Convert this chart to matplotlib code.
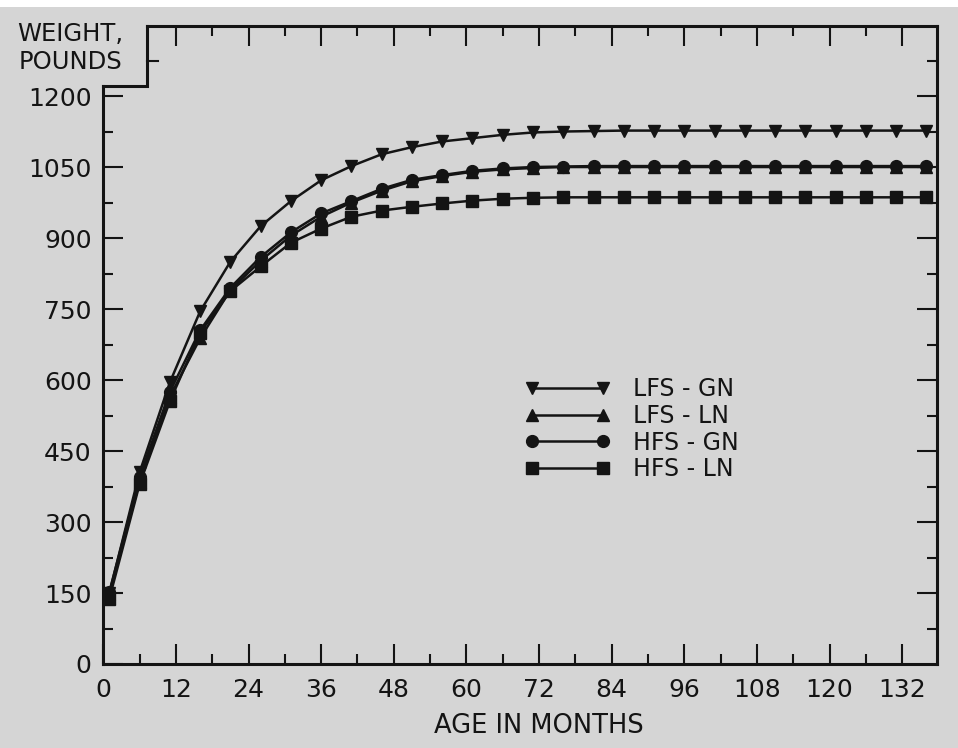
import numpy as np
import matplotlib
matplotlib.use("Agg")
import matplotlib.pyplot as plt
from matplotlib.patches import Rectangle

# -----------------------------
# Data
# -----------------------------
months = [1, 6, 11, 16, 21, 26, 31, 36, 41, 46, 51, 56, 61, 66,
          71, 76, 81, 86, 91, 96, 101, 106, 111, 116, 121, 126, 131, 136]

lfs_gn = [150, 405, 595, 745, 850, 925, 978, 1022, 1052, 1077, 1092, 1104, 1111, 1118,
          1123, 1125, 1126, 1127, 1127, 1127, 1127, 1127, 1127, 1127, 1127, 1127, 1127, 1127]
lfs_ln = [148, 385, 565, 688, 790, 852, 905, 945, 975, 1000, 1020, 1031, 1040, 1045,
          1048, 1050, 1050, 1050, 1050, 1050, 1050, 1050, 1050, 1050, 1050, 1050, 1050, 1050]
hfs_gn = [152, 395, 575, 705, 795, 860, 912, 952, 978, 1004, 1023, 1033, 1042, 1047,
          1050, 1051, 1052, 1052, 1052, 1052, 1052, 1052, 1052, 1052, 1052, 1052, 1052, 1052]
hfs_ln = [138, 380, 555, 700, 788, 840, 890, 920, 945, 958, 966, 973, 979, 983,
          985, 986, 986, 986, 986, 986, 986, 986, 986, 986, 986, 986, 986, 986]

series_labels = ["LFS - GN", "LFS - LN", "HFS - GN", "HFS - LN"]
series_markers = ["v", "^", "o", "s"]

x_ticks = list(range(0, 133, 12))
y_ticks = list(range(0, 1201, 150))

# -----------------------------
# Figure layout
# -----------------------------
BG = "#d5d5d5"
INK = "#141414"

plt.rcParams["font.family"] = ["DejaVu Sans"]

fig = plt.figure(figsize=(9.58, 7.48), dpi=100, facecolor=BG)
ax = fig.add_axes([0.1078, 0.1123, 0.870, 0.8536])
ax.set_facecolor(BG)

x_max = 137.7
y_max = 1349
notch_x = 7.27
notch_y = 1221

ax.set_xlim(0, x_max)
ax.set_ylim(0, y_max)

# ---- data lines ----
for vals, lab, mk in zip([lfs_gn, lfs_ln, hfs_gn, hfs_ln], series_labels, series_markers):
    ax.plot(months, vals, color=INK, lw=1.8, marker=mk, ms=8.5,
            markerfacecolor=INK, markeredgecolor=INK, label=lab)

# ---- frame with the notch at upper left ----
for s in ["left", "right", "top", "bottom"]:
    ax.spines[s].set_linewidth(2.2)
    ax.spines[s].set_color(INK)
ax.spines["left"].set_bounds(0, notch_y)
ax.spines["top"].set_bounds(notch_x, x_max)
ax.plot([0, notch_x, notch_x], [notch_y, notch_y, y_max], color=INK, lw=2.2,
        clip_on=False, solid_capstyle="projecting", solid_joinstyle="miter")
# small tick on the notch edge
ax.plot([notch_x, notch_x + 1.7], [1275, 1275], color=INK, lw=1.5, clip_on=False)

# ---- ticks ----
ax.set_xticks(x_ticks)
ax.set_xticks(list(range(6, 133, 12)), minor=True)
ax.set_yticks(y_ticks)
ax.set_yticks(list(range(75, 1200, 150)), minor=True)
ax.tick_params(which="major", direction="in", length=14.5, width=1.5, color=INK,
               labelsize=18, labelcolor=INK)
ax.tick_params(which="minor", direction="in", length=7.5, width=1.5, color=INK)
ax.tick_params(axis="x", which="major", pad=10)
ax.tick_params(axis="y", which="major", pad=8.4)

# right-side ticks
ax_r = ax.twinx()
ax_r.set_ylim(0, y_max)
ax_r.set_yticks(y_ticks[1:])
ax_r.set_yticks(list(range(75, 1300, 150)), minor=True)
ax_r.tick_params(which="major", direction="in", length=14.5, width=1.5, color=INK,
                 labelright=False)
ax_r.tick_params(which="minor", direction="in", length=7.5, width=1.5, color=INK)
for s in ax_r.spines.values():
    s.set_visible(False)

# top ticks
ax_t = ax.twiny()
ax_t.set_xlim(0, x_max)
ax_t.set_xticks(x_ticks[1:])
ax_t.set_xticks(list(range(18, 133, 12)), minor=True)
ax_t.tick_params(which="major", direction="in", length=14.5, width=1.5, color=INK,
                 labeltop=False)
ax_t.tick_params(which="minor", direction="in", length=7.5, width=1.5, color=INK)
for s in ax_t.spines.values():
    s.set_visible(False)

# ---- labels ----
ax.set_xlabel("AGE IN MONTHS", fontsize=18.5, color=INK, va="center")
ax.xaxis.set_label_coords(0.5228, -0.0966)

fig.text(123 / 958, 1 - 41 / 748, "WEIGHT,", fontsize=17.5, color=INK,
         ha="right", va="baseline")
fig.text(122 / 958, 1 - 69 / 748, "POUNDS", fontsize=17.5, color=INK,
         ha="right", va="baseline")

# ---- legend ----
leg = ax.legend(loc="upper left", bbox_to_anchor=(524.6 / 958, 1 - 377 / 748),
                bbox_transform=fig.transFigure, frameon=False, numpoints=2,
                fontsize=17, handlelength=3.64, handletextpad=0.97,
                labelspacing=0.12, borderpad=0, borderaxespad=0)
for t in leg.get_texts():
    t.set_color(INK)

# scanner strip along the top edge
fig.add_artist(Rectangle((0, 1 - 7 / 748), 1, 7 / 748, transform=fig.transFigure,
                         facecolor="white", edgecolor="none"))

fig.savefig("out.png", dpi=100, facecolor=BG)
